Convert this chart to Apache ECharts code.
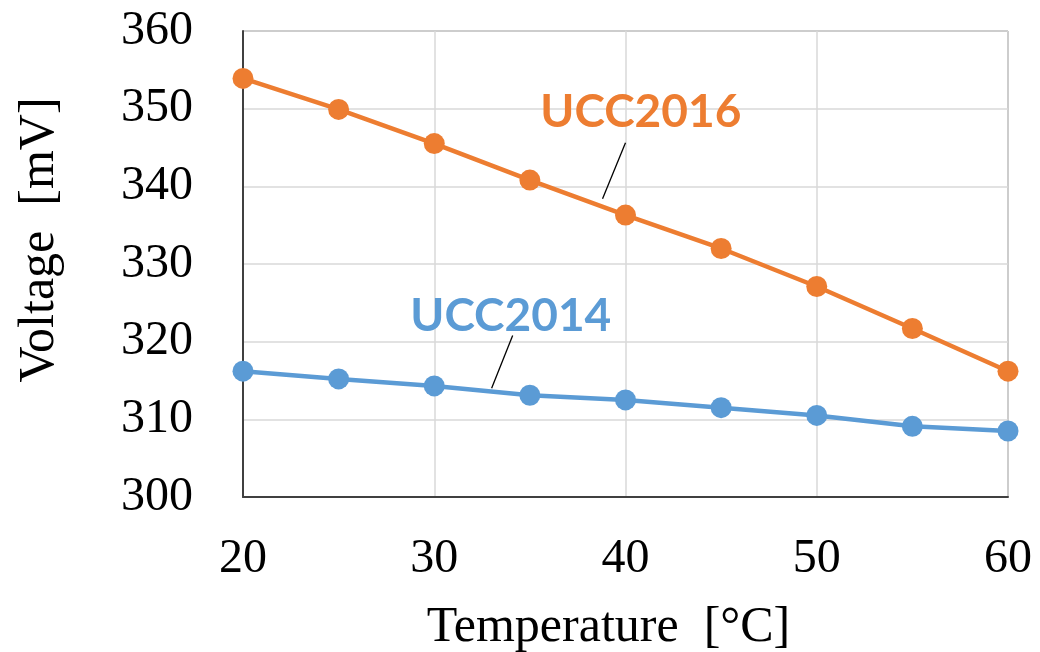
<!DOCTYPE html>
<html><head><meta charset="utf-8">
<script src="https://cdn.jsdelivr.net/npm/echarts@6/dist/echarts.min.js"></script>
<style>html,body{margin:0;padding:0;background:#fff}#c{width:1040px;height:652px}</style>
</head><body><div id="c"></div>
<script>
const temperatures = [20, 25, 30, 35, 40, 45, 50, 55, 60];
const ucc2016 = [353.9, 349.9, 345.5, 340.8, 336.3, 332.0, 327.1, 321.7, 316.2];
const ucc2014 = [316.2, 315.2, 314.3, 313.1, 312.5, 311.5, 310.5, 309.1, 308.5];
const xTicks = [20, 30, 40, 50, 60];
const yTicks = [300, 310, 320, 330, 340, 350, 360];
const annotations = [
  {name: 'UCC2016', color: '#ED7D31', text: [40.8, 349.5], from: [40.0, 345.6], to: [38.8, 338.4]},
  {name: 'UCC2014', color: '#5B9BD5', text: [34.0, 323.3], from: [34.1, 320.8], to: [33.0, 314.0]}
];

const chart = echarts.init(document.getElementById('c'), null, {renderer: 'canvas'});
const serif = '"Liberation Serif", "Times New Roman", serif';
function mk(name, vals, color) {
  return {
    name, type: 'line', data: temperatures.map((t, i) => [t, vals[i]]),
    symbol: 'circle', symbolSize: 21, lineStyle: {width: 4.5, color}, itemStyle: {color},
    z: name === 'UCC2016' ? 3 : 2, animation: false
  };
}
chart.setOption({
  animation: false,
  grid: {left: 243, right: 32, top: 31, bottom: 155, show: true, borderColor: '#595959', borderWidth: 1,
         containLabel: false, outerBoundsMode: 'none'},
  xAxis: {
    type: 'value', min: xTicks[0], max: xTicks[xTicks.length - 1], interval: 10,
    name: 'Temperature  [°C]', nameLocation: 'middle', nameGap: 106,
    nameTextStyle: {fontFamily: serif, fontSize: 50, color: '#000', padding: [0, 34, 0, 0]},
    axisLine: {show: true, lineStyle: {color: '#404040', width: 2}},
    axisTick: {show: false},
    axisLabel: {fontFamily: serif, fontSize: 48, color: '#000', margin: 38},
    splitLine: {show: true, lineStyle: {color: '#d9d9d9', width: 1.5}}
  },
  yAxis: {
    type: 'value', min: yTicks[0], max: yTicks[yTicks.length - 1], interval: 10,
    name: 'Voltage  [mV]', nameLocation: 'middle', nameGap: 178, nameRotate: 90,
    nameTextStyle: {fontFamily: serif, fontSize: 50, color: '#000', padding: [0, 0, 0, 48]},
    axisLine: {show: true, lineStyle: {color: '#404040', width: 2}},
    axisTick: {show: false},
    axisLabel: {fontFamily: serif, fontSize: 48, color: '#000', margin: 50},
    splitLine: {show: true, lineStyle: {color: '#d9d9d9', width: 1.5}}
  },
  series: [mk('UCC2014', ucc2014, '#5B9BD5'), mk('UCC2016', ucc2016, '#ED7D31')]
});

const elements = [];
annotations.forEach(a => {
  const t = chart.convertToPixel({gridIndex: 0}, a.text);
  const f = chart.convertToPixel({gridIndex: 0}, a.from);
  const e = chart.convertToPixel({gridIndex: 0}, a.to);
  elements.push({type: 'line', shape: {x1: f[0], y1: f[1], x2: e[0], y2: e[1]}, style: {stroke: '#000', lineWidth: 1.3}, z: 10});
  elements.push({type: 'text', x: t[0], y: t[1], style: {text: a.name, fill: a.color,
    font: 'bold 46px Lato, "Liberation Sans", sans-serif', align: 'center', verticalAlign: 'middle'}, z: 10});
});
chart.setOption({graphic: elements});
</script></body></html>
